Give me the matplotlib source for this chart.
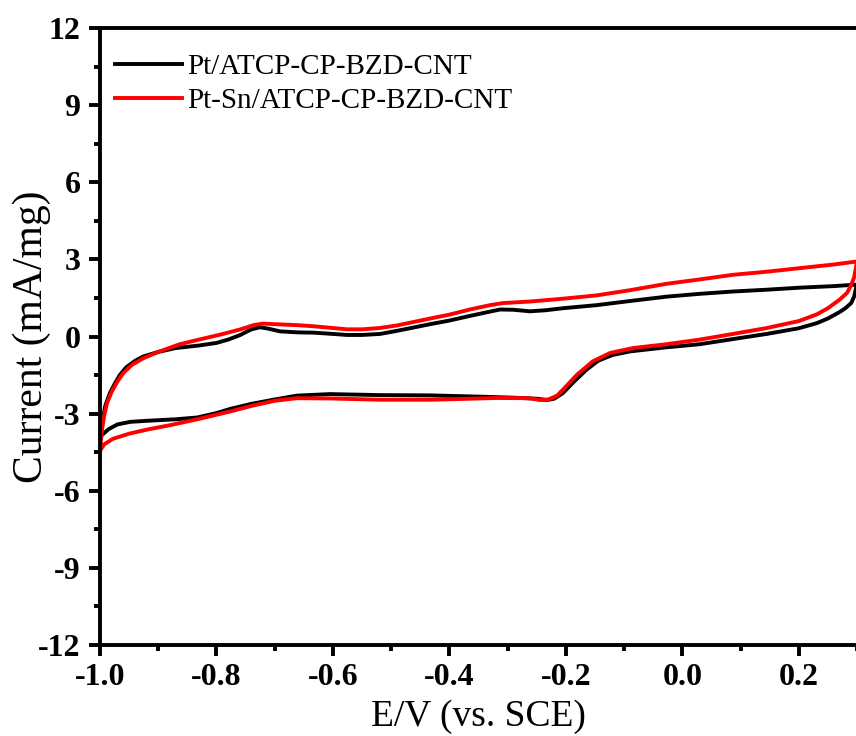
import matplotlib.pyplot as plt
import numpy as np
from matplotlib.ticker import MultipleLocator

plt.rcParams['font.family'] = ['Liberation Serif', 'DejaVu Serif']

# Pt/ATCP-CP-BZD-CNT : anodic sweep, then return sweep
pt_fwd_x = [-1.0, -0.995, -0.991, -0.983, -0.975, -0.966, -0.955, -0.94, -0.926, -0.90,
            -0.87, -0.83, -0.80, -0.78, -0.76, -0.74, -0.725, -0.71, -0.691, -0.66,
            -0.634, -0.60, -0.576, -0.55, -0.519, -0.49, -0.433, -0.40, -0.365, -0.33,
            -0.313, -0.29, -0.262, -0.235, -0.205, -0.147, -0.09, -0.027, 0.03, 0.087,
            0.145, 0.202, 0.26, 0.3]
pt_fwd_y = [-3.9, -3.2, -2.7, -2.2, -1.85, -1.5, -1.2, -0.95, -0.78, -0.6,
            -0.45, -0.35, -0.25, -0.12, 0.05, 0.28, 0.36, 0.3, 0.2, 0.16,
            0.15, 0.1, 0.06, 0.06, 0.1, 0.22, 0.48, 0.62, 0.8, 0.97,
            1.05, 1.04, 0.98, 1.02, 1.1, 1.22, 1.38, 1.55, 1.66, 1.75,
            1.82, 1.9, 1.96, 2.02]
pt_rev_x = [0.3, 0.298, 0.295, 0.29, 0.28, 0.27, 0.25, 0.231, 0.2, 0.145,
            0.087, 0.03, -0.027, -0.09, -0.12, -0.145, -0.165, -0.188, -0.205, -0.22,
            -0.233, -0.25, -0.29, -0.348, -0.433, -0.519, -0.605, -0.662, -0.70, -0.74,
            -0.777, -0.80, -0.833, -0.87, -0.92, -0.948, -0.97, -0.985, -0.995, -1.0]
pt_rev_y = [2.02, 1.85, 1.55, 1.3, 1.1, 0.95, 0.7, 0.52, 0.32, 0.1,
            -0.1, -0.3, -0.42, -0.58, -0.72, -0.95, -1.3, -1.8, -2.2, -2.42,
            -2.47, -2.42, -2.38, -2.34, -2.29, -2.28, -2.24, -2.3, -2.45, -2.62,
            -2.82, -2.98, -3.15, -3.22, -3.28, -3.32, -3.42, -3.6, -3.8, -3.9]

# Pt-Sn/ATCP-CP-BZD-CNT
ptsn_fwd_x = [-1.0, -0.997, -0.993, -0.988, -0.98, -0.97, -0.96, -0.945, -0.926, -0.90,
              -0.863, -0.83, -0.794, -0.76, -0.735, -0.72, -0.69, -0.66, -0.634, -0.60,
              -0.576, -0.549, -0.52, -0.49, -0.433, -0.40, -0.365, -0.33, -0.308, -0.262,
              -0.205, -0.147, -0.09, -0.027, 0.03, 0.087, 0.145, 0.202, 0.26, 0.3]
ptsn_fwd_y = [-4.45, -3.7, -3.1, -2.6, -2.15, -1.75, -1.42, -1.1, -0.85, -0.6,
              -0.3, -0.12, 0.07, 0.27, 0.45, 0.5, 0.47, 0.44, 0.4, 0.33,
              0.28, 0.28, 0.33, 0.43, 0.7, 0.85, 1.05, 1.22, 1.3, 1.36,
              1.47, 1.6, 1.8, 2.05, 2.22, 2.4, 2.52, 2.66, 2.8, 2.92]
ptsn_rev_x = [0.3, 0.298, 0.295, 0.29, 0.283, 0.27, 0.25, 0.231, 0.2, 0.145,
              0.087, 0.03, -0.027, -0.085, -0.124, -0.154, -0.181, -0.20, -0.215, -0.23,
              -0.245, -0.262, -0.318, -0.38, -0.433, -0.519, -0.605, -0.662, -0.70, -0.74,
              -0.777, -0.833, -0.88, -0.919, -0.95, -0.978, -0.993, -1.0]
ptsn_rev_y = [2.92, 2.65, 2.3, 2.0, 1.7, 1.43, 1.1, 0.86, 0.6, 0.33,
              0.1, -0.12, -0.3, -0.45, -0.64, -0.97, -1.49, -1.95, -2.3, -2.45,
              -2.47, -2.4, -2.39, -2.43, -2.46, -2.46, -2.41, -2.4, -2.5, -2.7,
              -2.92, -3.22, -3.45, -3.62, -3.78, -3.98, -4.2, -4.45]

fig = plt.figure(figsize=(8.56, 7.36), dpi=100)
ax = fig.add_axes([100/856, 1-645/736, 757/856, (645-28)/736])

ax.plot(pt_fwd_x + pt_rev_x, pt_fwd_y + pt_rev_y, color='black', lw=2.8,
        solid_joinstyle='round', label='Pt/ATCP-CP-BZD-CNT')
ax.plot(ptsn_fwd_x + ptsn_rev_x, ptsn_fwd_y + ptsn_rev_y, color='red', lw=2.8,
        solid_joinstyle='round', label='Pt-Sn/ATCP-CP-BZD-CNT')

ax.set_xlim(-1.0, 0.3)
ax.set_ylim(-12, 12)
ax.xaxis.set_minor_locator(MultipleLocator(0.1))
ax.yaxis.set_minor_locator(MultipleLocator(1.5))
ax.set_xticks(np.arange(-1.0, 0.21, 0.2))
ax.set_xticklabels(['-1.0', '-0.8', '-0.6', '-0.4', '-0.2', '0.0', '0.2'])
ax.set_yticks(np.arange(-12, 13, 3))
ax.set_yticklabels([str(v) for v in range(-12, 13, 3)])

for s in ax.spines.values():
    s.set_linewidth(2.8)
ax.spines['right'].set_visible(False)
ax.tick_params(which='major', direction='out', length=8, width=2.8, labelsize=23)
ax.tick_params(axis='x', which='major', pad=5)
ax.tick_params(axis='y', which='major', pad=6)
ax.tick_params(which='minor', direction='out', length=4.5, width=2.8)
ax.tick_params(top=False, right=False)
for lab in ax.get_xticklabels() + ax.get_yticklabels():
    lab.set_fontweight('bold')

ax.set_xlabel('E/V (vs. SCE)', fontsize=27, labelpad=5)
ax.set_ylabel('Current (mA/mg)', fontsize=30, labelpad=-9)

ax.legend(loc='upper left', bbox_to_anchor=(0.0, 0.9823), frameon=False, fontsize=21,
          handlelength=2.3, handletextpad=0.2, borderaxespad=0, borderpad=0.5,
          labelspacing=0.26)

fig.savefig('out.png', dpi=100)
